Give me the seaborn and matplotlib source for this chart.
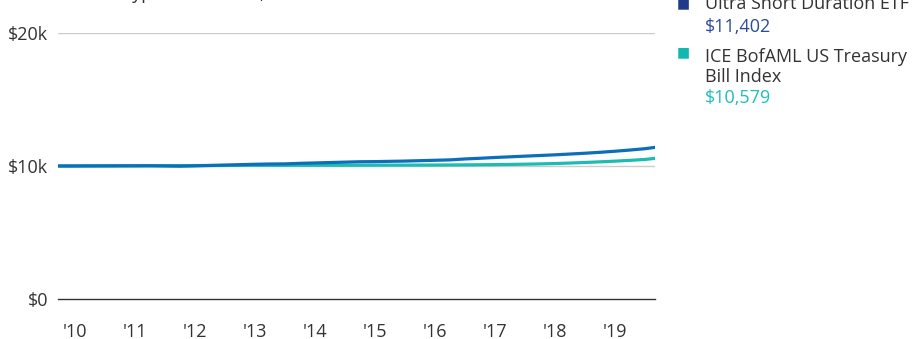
import matplotlib
matplotlib.use("Agg")
import matplotlib.pyplot as plt
import seaborn as sns
import pandas as pd

# ---- data ----
dates = [2009.72, 2010.00, 2010.25, 2010.50, 2010.75, 2011.00, 2011.25, 2011.50, 2011.75,
         2012.00, 2012.25, 2012.50, 2012.75, 2013.00, 2013.25, 2013.50, 2013.75,
         2014.00, 2014.25, 2014.50, 2014.75, 2015.00, 2015.25, 2015.50, 2015.75,
         2016.00, 2016.25, 2016.50, 2016.75, 2017.00, 2017.25, 2017.50, 2017.75,
         2018.00, 2018.25, 2018.50, 2018.75, 2019.00, 2019.25, 2019.50, 2019.67]
etf_values = [10000, 10000, 10005, 10005, 10010, 10010, 10015, 10000, 9985,
              10010, 10040, 10070, 10100, 10130, 10150, 10160, 10200,
              10230, 10260, 10290, 10320, 10330, 10350, 10370, 10400,
              10430, 10460, 10530, 10580, 10640, 10690, 10740, 10790,
              10840, 10900, 10960, 11030, 11110, 11200, 11300, 11402]
index_values = [10000, 10004, 10008, 10012, 10016, 10020, 10024, 10028, 10031,
                10034, 10037, 10040, 10043, 10046, 10048, 10050, 10052,
                10054, 10056, 10058, 10060, 10062, 10064, 10066, 10068,
                10072, 10078, 10085, 10093, 10103, 10118, 10136, 10158,
                10185, 10222, 10265, 10312, 10365, 10425, 10492, 10579]
series_names = ["Ultra Short Duration ETF", "ICE BofAML US Treasury Bill Index"]
legend_labels = ["Ultra Short Duration ETF", "ICE BofAML US Treasury\nBill Index"]
end_labels = ["$11,402", "$10,579"]
year_ticks = [2010, 2011, 2012, 2013, 2014, 2015, 2016, 2017, 2018, 2019]
year_labels = ["'10", "'11", "'12", "'13", "'14", "'15", "'16", "'17", "'18", "'19"]
y_ticks = [0, 10000, 20000]
y_labels = ["$0", "$10k", "$20k"]
title = "Growth of Hypothetical $10,000"

line_colors = {series_names[0]: "#0a6fba", series_names[1]: "#1cbcb4"}
square_colors = ["#1f3a8a", "#12b8b0"]
value_colors = ["#2a4b9b", "#1cc0b8"]

df = pd.concat([
    pd.DataFrame({"date": dates, "value": etf_values, "series": series_names[0]}),
    pd.DataFrame({"date": dates, "value": index_values, "series": series_names[1]}),
])

sns.set_theme(style="white")
plt.rcParams["font.family"] = ["Open Sans", "DejaVu Sans"]

W, H = 919, 339
fig = plt.figure(figsize=(W / 100, H / 100), dpi=100)
ax = fig.add_axes([58 / W, (H - 299) / H, (655 - 58) / W, (299 - 33) / H])

sns.lineplot(data=df, x="date", y="value", hue="series",
             hue_order=[series_names[1], series_names[0]],
             palette=line_colors, linewidth=2.3, ax=ax, legend=False)

ax.set_xlim(2009.717, 2019.667)
ax.set_ylim(0, 20000)
ax.set_xticks(year_ticks)
ax.set_xticklabels(year_labels)
ax.set_yticks(y_ticks)
ax.set_yticklabels(y_labels)
ax.set_xlabel("")
ax.set_ylabel("")
for s in ["top", "right", "left"]:
    ax.spines[s].set_visible(False)
ax.spines["bottom"].set_color("#333333")
ax.spines["bottom"].set_linewidth(1.0)
for yv in y_ticks[1:]:
    ax.axhline(yv, color="#cccccc", linewidth=1.0, zorder=0)
ax.tick_params(axis="both", length=0, labelsize=13, colors="#333333")
ax.tick_params(axis="y", pad=7)
ax.tick_params(axis="x", pad=17)

# title mostly above the top edge, as in the reference
fig.text(30 / W, 1 + 1 / H, title, fontsize=13, color="#333333",
         ha="left", va="baseline")

# legend at right
lx_sq, lx_txt = 677 / W, 705 / W
fig.text(lx_sq, 1 - 4 / H, "\u25A0", fontsize=10, color=square_colors[0], ha="left", va="center")
fig.text(lx_sq, 1 - 53 / H, "\u25A0", fontsize=10, color=square_colors[1], ha="left", va="center")
fig.text(lx_txt, 1 - 4 / H, legend_labels[0], fontsize=13, color="#333333", ha="left", va="center")
fig.text(lx_txt, 1 - 67 / H, legend_labels[1], fontsize=13, color="#333333", ha="left", va="center",
         linespacing=1.2)
fig.text(lx_txt, 1 - 27 / H, end_labels[0], fontsize=13, color=value_colors[0], ha="left", va="center")
fig.text(lx_txt, 1 - 98 / H, end_labels[1], fontsize=13, color=value_colors[1], ha="left", va="center")

fig.savefig("out.png", dpi=100)
